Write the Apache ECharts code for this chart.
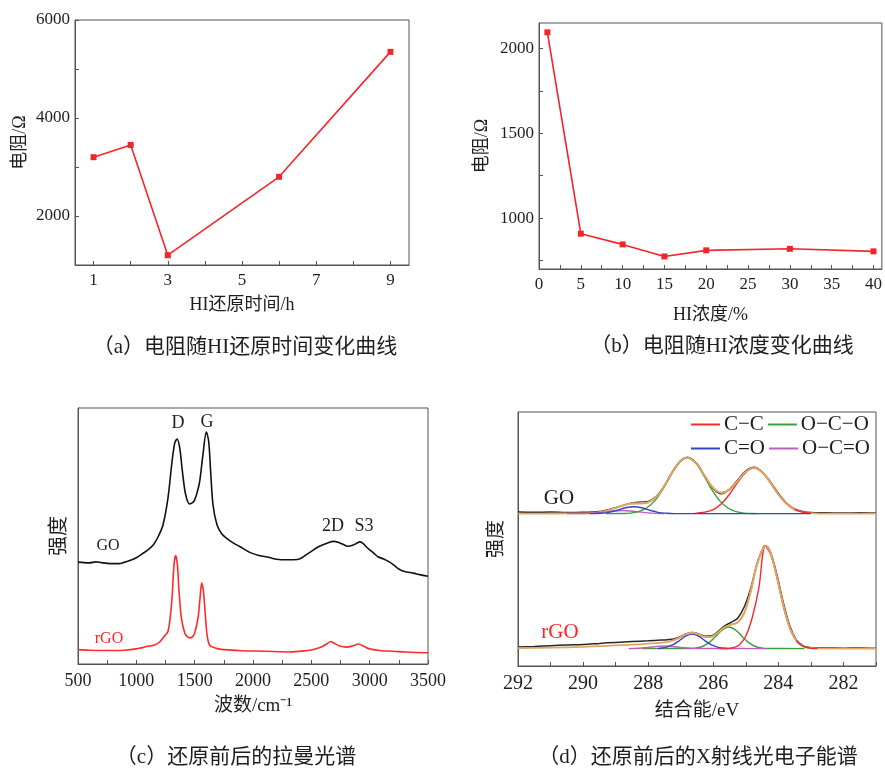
<!DOCTYPE html>
<html><head><meta charset="utf-8">
<script src="https://cdn.jsdelivr.net/npm/echarts@6/dist/echarts.min.js"></script>
<style>html,body{margin:0;padding:0;background:#fff}#c{width:885px;height:768px}</style>
</head><body><div id="c"></div>
<script>
// ---------- (a) resistance vs HI reduction time ----------
const timeHours = [1, 2, 3, 6, 9];
const resistanceByTime = [3200, 3450, 1200, 2800, 5350];
const aXLabels = [1, 3, 5, 7, 9];
const aXTicks = [1, 2, 3, 4, 5, 6, 7, 8, 9];
const aYLabels = [2000, 4000, 6000];
const aYTicks = [1000, 2000, 3000, 4000, 5000, 6000];

// ---------- (b) resistance vs HI concentration ----------
const hiConcentration = [1, 5, 10, 15, 20, 30, 40];
const resistanceByConc = [2095, 908, 845, 774, 810, 819, 804];
const bXLabels = [0, 5, 10, 15, 20, 25, 30, 35, 40];
const bXTicks = [0, 2.5, 5, 7.5, 10, 12.5, 15, 17.5, 20, 22.5, 25, 27.5, 30, 32.5, 35, 37.5, 40];
const bYLabels = [1000, 1500, 2000];
const bYTicks = [750, 1000, 1250, 1500, 1750, 2000];

// ---------- (c) Raman spectra (wavenumber, relative intensity) ----------
const ramanGO = [[500,39.8],[550,39.6],[600,39.5],[650,39.9],[700,39.6],[750,39.3],[800,39.2],[850,39.2],[900,39.8],[950,40.5],[1000,41.5],[1050,43],[1100,44.6],[1150,46.8],[1190,50],[1229,54.4],[1271,64.8],[1306,79.1],[1329,86.3],[1349,87.9],[1372,84.4],[1395,75.2],[1423,66.1],[1457,62.5],[1492,63.5],[1520,66.8],[1543,71.3],[1571,81.8],[1600,90.6],[1620,87],[1637,75.2],[1657,62.2],[1691,54.4],[1730,51],[1772,49.2],[1830,47.3],[1886,45.9],[1972,43.6],[2050,42.4],[2150,41.5],[2200,40.9],[2300,40.7],[2380,40.8],[2420,41.5],[2460,42.8],[2500,44],[2550,45.5],[2600,46.6],[2650,47.5],[2690,47.9],[2730,47.6],[2770,46.8],[2814,46],[2860,46.5],[2890,47.2],[2914,47.7],[2940,47.2],[2970,45.8],[3000,44.6],[3040,43.1],[3071,41.9],[3120,41],[3171,39.8],[3210,38.5],[3257,36.9],[3300,36.1],[3374,35.5],[3430,34.9],[3500,34.3]];
const ramanRGO = [[500,5.6],[600,5.4],[700,5.3],[800,5.3],[900,5.4],[1000,5.9],[1050,6.4],[1100,6.9],[1150,7.3],[1200,8.6],[1240,10.8],[1271,12.7],[1290,18],[1306,25.8],[1323,38.8],[1337,42.4],[1352,38.8],[1366,28.4],[1386,18],[1415,12.1],[1435,10.8],[1457,10.2],[1480,10.6],[1500,12.1],[1529,18],[1546,25.8],[1560,31.6],[1575,28.4],[1589,20.6],[1606,11.5],[1629,7.3],[1686,6.1],[1750,5.6],[1900,5.2],[2100,5.0],[2314,4.7],[2450,5.2],[2520,5.7],[2580,6.5],[2630,7.8],[2666,8.8],[2700,8.0],[2750,6.9],[2800,6.6],[2850,7.0],[2906,7.8],[2950,6.9],[3000,5.9],[3100,5.2],[3200,5.0],[3300,4.7],[3400,4.5],[3500,4.4]];

// ---------- (d) XPS C1s (binding energy, relative intensity) ----------
const xpsGORaw = [[292,60.6],[291.5,60.5],[291,60.6],[290.5,60.4],[290,60.5],[289.5,60.8],[289,62.3],[288.5,64.2],[288,64.8],[287.75,66.8],[287.5,71],[287.25,76.6],[287,80.9],[286.8,82.2],[286.5,79.6],[286.25,74.4],[286,69.8],[285.75,67.8],[285.5,69.6],[285.25,73.2],[285,76.8],[284.75,78.2],[284.5,76.4],[284.25,72.6],[284,68],[283.75,64.2],[283.5,61.8],[283.25,60.8],[283,60.4],[282.5,60.3],[282,60.2],[281.5,60.3],[281,60.2]];
const xpsGOFit = [[292,60],[291,60.02],[290.5,60.05],[290,60.07],[289.75,60.22],[289.5,60.57],[289.25,61.24],[289,62.25],[288.75,63.37],[288.5,63.98],[288.25,64.04],[288,64.44],[287.75,66.56],[287.5,70.85],[287.25,76.35],[287,80.7],[286.8,82],[286.5,79.4],[286.25,74.6],[286,70.1],[285.75,68.2],[285.5,69.4],[285.25,72.9],[285,76.5],[284.75,78],[284.5,76.3],[284.25,72.3],[284,67.6],[283.75,63.9],[283.5,61.6],[283.25,60.6],[283,60.2],[282.5,60],[281,60]];
const xpsGO_CC = [[286.6,60],[286.5,60.2],[286.25,60.6],[286,61.6],[285.75,63.9],[285.5,67.6],[285.25,72.3],[285,76.3],[284.75,78],[284.5,76.3],[284.25,72.3],[284,67.6],[283.75,63.9],[283.5,61.6],[283.25,60.6],[283,60.2]];
const xpsGO_OCO = [[289.3,60],[288.8,60.05],[288.55,60.2],[288.3,60.8],[288.05,62.2],[287.8,65],[287.55,69.5],[287.3,75.2],[287.05,80],[286.8,82],[286.55,80],[286.3,75.2],[286.05,69.5],[285.8,65],[285.55,62.2],[285.3,60.8],[285.05,60.2],[284.8,60.05],[284.6,60]];
const xpsGO_CdO = [[289.8,60],[289.45,60.15],[289.2,60.5],[288.95,61.3],[288.7,62.3],[288.45,62.7],[288.2,62.3],[287.95,61.3],[287.7,60.5],[287.45,60.15],[287.2,60],[283,60]];
const xpsGO_OCdO = [[290.5,60],[290,60.05],[289.6,60.3],[289.3,60.7],[289.05,61.05],[288.8,61.2],[288.55,61.05],[288.3,60.7],[288,60.3],[287.5,60]];

const xpsRGORaw = [[292,7.5],[291.5,7.7],[291,8.0],[290.5,8.3],[290,8.5],[289.5,8.9],[289,9.3],[288.5,9.6],[288,9.9],[287.6,10.2],[287.25,10.5],[287.05,11.3],[286.85,12.6],[286.65,13.2],[286.45,12.6],[286.25,11.7],[286.05,11.9],[285.85,13.6],[285.65,15.8],[285.45,17.2],[285.25,18.8],[285.05,23.2],[284.85,30.5],[284.65,40.6],[284.45,47.0],[284.4,47.3],[284.25,45],[284.05,36.2],[283.85,25],[283.65,15.8],[283.45,10.3],[283.25,8.0],[283.05,7.3],[282.8,7.1],[282.5,7.1],[282,7.0],[281.5,7.1],[281,7.0]];
const xpsRGOFit = [[292,7.0],[291,7.2],[290,7.5],[289.5,7.8],[289,8.1],[288.5,8.4],[288.2,8.6],[288,8.8],[287.75,9.0],[287.5,9.3],[287.25,10.0],[287.05,11.07],[286.85,12.45],[286.65,13.1],[286.45,12.47],[286.25,11.46],[286.05,11.58],[285.85,13.2],[285.65,15.2],[285.45,16.3],[285.25,17.2],[285.05,20.8],[284.85,29.35],[284.65,40.3],[284.45,46.95],[284.4,47.2],[284.25,44.65],[284.05,35.35],[283.85,23.95],[283.65,15.05],[283.45,9.95],[283.25,7.8],[283.05,7.1],[282.8,6.9],[281,6.85]];
const xpsRGO_CC = [[285.8,6.85],[285.6,6.9],[285.4,7.2],[285.2,8.3],[285,11.8],[284.8,19.2],[284.6,30.7],[284.4,47.15],[284.2,42.8],[284,32.5],[283.8,21.4],[283.6,13.4],[283.4,9.2],[283.2,7.5],[283,7.0],[282.8,6.85]];
const xpsRGO_OCO = [[288.2,6.85],[286.72,6.9],[286.52,7.11],[286.32,7.78],[286.12,9.29],[285.92,11.74],[285.72,14.25],[285.52,15.35],[285.32,14.25],[285.12,11.74],[284.92,9.29],[284.72,7.78],[284.52,7.11],[284.32,6.9],[283.2,6.85]];
const xpsRGO_CdO = [[287.7,6.85],[287.65,6.97],[287.45,7.33],[287.25,8.27],[287.05,9.92],[286.85,11.74],[286.65,12.55],[286.45,11.74],[286.25,9.92],[286.05,8.27],[285.85,7.33],[285.65,6.97],[285.55,6.85]];
const xpsRGO_OCdO = [[288.6,6.85],[288.2,7.1],[288,7.3],[287.75,7.67],[287.5,7.85],[287.25,7.67],[287,7.3],[286.8,7.1],[286.5,6.9],[284.4,6.85]];
const dXLabels = [282, 284, 286, 288, 290, 292];
const dXTicks = [281, 282, 283, 284, 285, 286, 287, 288, 289, 290, 291, 292];

// ---------- styling ----------
const FONT = '"Liberation Serif","Noto Sans CJK SC",serif';
const TXT = '#1e1e1e';
const AX = '#555';
const RED = '#f2262a';
const C_CC = '#f52a2a', C_OCO = '#3c9e3c', C_CdO = '#3346c4', C_OCdO = '#c25bc2', C_FIT = '#e2a462', C_RAW = '#262626';
const plain = v => String(v);

function xAx(gi, o) {
  return Object.assign({
    gridIndex: gi, type: 'value',
    axisLine: { show: true, onZero: false, lineStyle: { color: AX, width: 1 } },
    axisTick: { show: true, inside: true, length: 4, lineStyle: { color: AX } },
    axisLabel: { fontFamily: FONT, fontSize: 17, color: TXT, margin: 7, formatter: plain },
    splitLine: { show: false },
    nameLocation: 'middle',
    nameTextStyle: { fontFamily: FONT, fontSize: 18, color: TXT }
  }, o);
}
function yAx(gi, o) {
  return Object.assign({
    gridIndex: gi, type: 'value',
    axisLine: { show: true, onZero: false, lineStyle: { color: AX, width: 1 } },
    axisTick: { show: true, inside: true, length: 4, lineStyle: { color: AX } },
    axisLabel: { fontFamily: FONT, fontSize: 17, color: TXT, margin: 5, formatter: plain },
    splitLine: { show: false },
    nameLocation: 'middle',
    nameTextStyle: { fontFamily: FONT, fontSize: 18, color: TXT }
  }, o);
}
function ln(name, idx, data, color, width, smooth) {
  return { name, type: 'line', xAxisIndex: idx, yAxisIndex: idx, data, showSymbol: false, symbol: 'none',
    smooth: smooth, lineStyle: { color, width }, itemStyle: { color }, silent: true };
}
function txt(text, x, y, size, color, extra) {
  return Object.assign({ type: 'text', x, y, silent: true,
    style: { text, fill: color || TXT, font: size + 'px ' + FONT, align: 'center', verticalAlign: 'middle' } }, extra || {});
}

const gridStyle = { show: true, borderColor: AX, borderWidth: 1, backgroundColor: 'transparent' };

const option = {
  animation: false,
  backgroundColor: '#fff',
  grid: [
    Object.assign({ left: 75, top: 20, width: 334, height: 245 }, gridStyle),
    Object.assign({ left: 539, top: 23, width: 343, height: 246 }, gridStyle),
    Object.assign({ left: 78, top: 408, width: 350, height: 256 }, gridStyle),
    Object.assign({ left: 518, top: 412, width: 358, height: 254 }, gridStyle)
  ],
  xAxis: [
    xAx(0, { min: 0.5, max: 9.5, name: 'HI还原时间/h', nameGap: 31,
      axisLabel: { fontFamily: FONT, fontSize: 17, color: TXT, margin: 7, formatter: plain, customValues: aXLabels },
      axisTick: { show: true, inside: true, length: 4, lineStyle: { color: AX }, customValues: aXTicks } }),
    xAx(1, { min: 0, max: 41, name: 'HI浓度/%', nameGap: 37,
      axisLabel: { fontFamily: FONT, fontSize: 17, color: TXT, margin: 7, formatter: plain, customValues: bXLabels },
      axisTick: { show: true, inside: true, length: 4, lineStyle: { color: AX }, customValues: bXTicks } }),
    xAx(2, { min: 500, max: 3500, interval: 500, name: '波数/cm⁻¹', nameGap: 33,
      nameTextStyle: { fontFamily: FONT, fontSize: 19, color: TXT },
      axisLabel: { fontFamily: FONT, fontSize: 18, color: TXT, margin: 8, formatter: plain },
      minorTick: { show: true, splitNumber: 2, length: 4, lineStyle: { color: AX } } }),
    xAx(3, { min: 281, max: 292, inverse: true, name: '结合能/eV', nameGap: 36,
      nameTextStyle: { fontFamily: FONT, fontSize: 19, color: TXT },
      axisLabel: { fontFamily: FONT, fontSize: 20, color: TXT, margin: 8, formatter: plain, customValues: dXLabels },
      axisTick: { show: true, inside: true, length: 4, lineStyle: { color: AX }, customValues: dXTicks } })
  ],
  yAxis: [
    yAx(0, { min: 1000, max: 6000, name: '电阻/Ω', nameGap: 46,
      axisLabel: { fontFamily: FONT, fontSize: 17, color: TXT, margin: 5, formatter: plain, customValues: aYLabels },
      axisTick: { show: true, inside: true, length: 4, lineStyle: { color: AX }, customValues: aYTicks } }),
    yAx(1, { min: 700, max: 2150, name: '电阻/Ω', nameGap: 48,
      axisLabel: { fontFamily: FONT, fontSize: 17, color: TXT, margin: 5, formatter: plain, customValues: bYLabels },
      axisTick: { show: true, inside: true, length: 4, lineStyle: { color: AX }, customValues: bYTicks } }),
    yAx(2, { min: 0, max: 100, name: '强度', nameGap: 8,
      nameTextStyle: { fontFamily: FONT, fontSize: 20, color: TXT },
      axisLabel: { show: false }, axisTick: { show: false } }),
    yAx(3, { min: 0, max: 100, name: '强度', nameGap: 11,
      nameTextStyle: { fontFamily: FONT, fontSize: 19, color: TXT },
      axisLabel: { show: false }, axisTick: { show: false } })
  ],
  legend: [
    { data: ['C−C', 'O−C−O'], left: 691, top: 414, padding: 0, itemGap: 4, itemWidth: 29, itemHeight: 2,
      icon: 'rect', selectedMode: false, textStyle: { fontFamily: FONT, fontSize: 21, color: TXT, padding: [0, 0, 0, -1] } },
    { data: ['C=O', 'O−C=O'], left: 691, top: 438, padding: 0, itemGap: 4, itemWidth: 29, itemHeight: 2,
      icon: 'rect', selectedMode: false, textStyle: { fontFamily: FONT, fontSize: 21, color: TXT, padding: [0, 0, 0, -1] } }
  ],
  series: [
    { name: 'a', type: 'line', xAxisIndex: 0, yAxisIndex: 0,
      data: timeHours.map((x, i) => [x, resistanceByTime[i]]),
      symbol: 'rect', symbolSize: 6, lineStyle: { color: RED, width: 1.6 }, itemStyle: { color: RED } },
    { name: 'b', type: 'line', xAxisIndex: 1, yAxisIndex: 1,
      data: hiConcentration.map((x, i) => [x, resistanceByConc[i]]),
      symbol: 'rect', symbolSize: 6, lineStyle: { color: RED, width: 1.6 }, itemStyle: { color: RED } },
    ln('GO', 2, ramanGO, '#111', 1.6, 0.3),
    ln('rGO', 2, ramanRGO, '#ff2b2b', 1.6, 0.3),
    // XPS GO
    ln('rawGO', 3, xpsGORaw, C_RAW, 1.5, 0.35),
    ln('fitGO', 3, xpsGOFit, C_FIT, 1.8, 0.35),
    ln('O−C=O', 3, xpsGO_OCdO, C_OCdO, 1.4, 0.35),
    ln('O−C−O', 3, xpsGO_OCO, C_OCO, 1.4, 0.35),
    ln('C−C', 3, xpsGO_CC, C_CC, 1.4, 0.35),
    ln('C=O', 3, xpsGO_CdO, C_CdO, 1.4, 0.35),
    ln('fitGOtop', 3, xpsGOFit.filter(p => p[0] <= 288.6 && p[0] >= 283.4), C_FIT, 1.8, 0.35),
    // XPS rGO
    ln('rawRGO', 3, xpsRGORaw, C_RAW, 1.5, 0.35),
    ln('fitRGO', 3, xpsRGOFit, C_FIT, 1.8, 0.35),
    ln('O−C−O', 3, xpsRGO_OCO, C_OCO, 1.4, 0.35),
    ln('O−C=O', 3, xpsRGO_OCdO, C_OCdO, 1.4, 0.35),
    ln('C=O', 3, xpsRGO_CdO, C_CdO, 1.4, 0.35),
    ln('C−C', 3, xpsRGO_CC, C_CC, 1.4, 0.35),
    ln('fitRGOtop', 3, xpsRGOFit.filter(p => p[0] <= 287.3 && p[0] >= 283.4), C_FIT, 1.8, 0.35)
  ],
  graphic: [
    txt('（a）电阻随HI还原时间变化曲线', 245, 347, 21),
    txt('（b）电阻随HI浓度变化曲线', 722, 346, 21),
    txt('（c）还原前后的拉曼光谱', 236, 757, 21),
    txt('（d）还原前后的X射线光电子能谱', 698, 757, 21),
    txt('D', 178, 423, 18),
    txt('G', 207, 422, 18),
    txt('2D', 333, 526, 18),
    txt('S3', 364, 526, 18),
    txt('GO', 108, 546, 16),
    txt('rGO', 109, 639, 16, '#f22'),
    txt('GO', 559, 498, 21),
    txt('rGO', 560, 632, 21, '#f22')
  ]
};

const chart = echarts.init(document.getElementById('c'), null, { renderer: 'canvas' });
chart.setOption(option);
</script>
</body></html>
